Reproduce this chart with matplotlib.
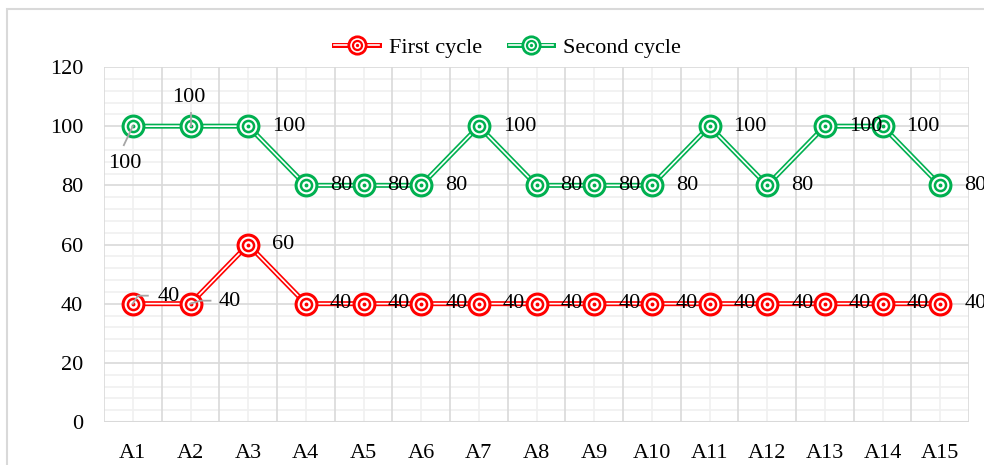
import matplotlib
matplotlib.use("Agg")
import matplotlib.pyplot as plt
from matplotlib.lines import Line2D
from matplotlib.legend_handler import HandlerTuple
from matplotlib.patches import Rectangle
from matplotlib.ticker import MultipleLocator

categories = ["A1", "A2", "A3", "A4", "A5", "A6", "A7", "A8", "A9", "A10",
              "A11", "A12", "A13", "A14", "A15"]
first_cycle = [40, 40, 60, 40, 40, 40, 40, 40, 40, 40, 40, 40, 40, 40, 40]
second_cycle = [100, 100, 100, 80, 80, 80, 100, 80, 80, 80, 100, 80, 100, 100, 80]
series_names = ["First cycle", "Second cycle"]

RED = "#FF0000"
GREEN = "#00B050"
FONT = "Liberation Serif"
FS = 16

plt.rcParams['font.family'] = [FONT, 'DejaVu Serif']

fig = plt.figure(figsize=(9.84, 4.65), dpi=100)
fig.patches.append(Rectangle((7 / 984, -0.1), 1.2, 1 - 9.5 / 465 + 0.1,
                             transform=fig.transFigure, fill=False,
                             edgecolor="#d9d9d9", lw=1.5, zorder=0))

ax = fig.add_axes([104 / 984, 1 - 422 / 465, (969 - 104) / 984, (422 - 67) / 465])
x = list(range(len(categories)))

ax.set_xlim(-0.5, len(categories) - 0.5)
ax.set_ylim(0, 120)
ax.yaxis.set_major_locator(MultipleLocator(20))
ax.yaxis.set_minor_locator(MultipleLocator(4))
ax.set_xticks(x)
ax.set_xticklabels(categories)

for v in range(0, 121, 4):
    if v % 20 == 0:
        ax.axhline(v, color="#d9d9d9", lw=1.2, zorder=0.5)
    else:
        ax.axhline(v, color="#f0f0f0", lw=1.2, zorder=0.4)
for i in range(len(categories) + 1):
    ax.axvline(i - 0.5, color="#d9d9d9", lw=1.2, zorder=0.5)
for i in x:
    ax.axvline(i, color="#f0f0f0", lw=1.2, zorder=0.4)

for s in ax.spines.values():
    s.set_visible(False)
ax.axhline(0, color="#d9d9d9", lw=1.5, zorder=0.6)

ax.tick_params(axis="both", which="both", length=0, labelsize=FS, colors="black")
ax.tick_params(axis="y", pad=15)
ax.tick_params(axis="x", pad=16)


def draw_series(vals, color, z):
    ax.plot(x, vals, color=color, lw=3.6, zorder=z, solid_capstyle="butt")
    ax.plot(x, vals, color="white", lw=1.2, zorder=z + 0.01)
    ax.plot(x, vals, ls="none", marker="o", ms=15, mfc="white", mec=color, mew=2.2, zorder=z + 0.02)
    ax.plot(x, vals, ls="none", marker="o", ms=8, mfc="white", mec=color, mew=1.8, zorder=z + 0.03)
    ax.plot(x, vals, ls="none", marker="o", ms=2.8, mfc=color, mec=color, mew=0, zorder=z + 0.04)


draw_series(first_cycle, RED, 3)
draw_series(second_cycle, GREEN, 4)

PT = 72 / 100.0  # px -> pt
YU = 120 / 355.0  # data units per px (y)
XU = 1 / 57.6     # data units per px (x)
LEAD = "#a6a6a6"


def label(i, v, dx=24, dy=0, ha="left"):
    ax.annotate(str(v), (i, v), xytext=(dx * PT, dy * PT), textcoords="offset points",
                ha=ha, va="center", fontsize=FS, color="black", zorder=10,
                annotation_clip=False)


for i, v in enumerate(first_cycle):
    if i == 0:
        label(i, v, dx=25, dy=7)
        ax.plot([i, i + 5 * XU, i + 15 * XU], [v, v + 8 * YU, v + 8 * YU],
                color=LEAD, lw=1.3, zorder=9)
    elif i == 1:
        label(i, v, dx=28, dy=2)
        ax.plot([i, i + 10 * XU, i + 20 * XU], [v, v + 3 * YU, v + 3 * YU],
                color=LEAD, lw=1.3, zorder=9)
    else:
        label(i, v)

for i, v in enumerate(second_cycle):
    if i == 0:
        label(i, v, dx=-8, dy=-37, ha="center")
        ax.plot([i, i - 9 * XU], [v, v - 19 * YU], color=LEAD, lw=1.3, zorder=9)
    elif i == 1:
        label(i, v, dx=-2, dy=29, ha="center")
        ax.plot([i, i], [v, v + 13 * YU], color=LEAD, lw=1.3, zorder=9)
    else:
        label(i, v)


def handle(color):
    return (Line2D([], [], color=color, lw=3.6),
            Line2D([], [], color="white", lw=1.2),
            Line2D([], [], ls="none", marker="o", ms=12.5, mfc="white", mec=color, mew=2.0),
            Line2D([], [], ls="none", marker="o", ms=6.5, mfc="white", mec=color, mew=1.6),
            Line2D([], [], ls="none", marker="o", ms=2.4, mfc=color, mec=color, mew=0))


fig.legend([handle(RED), handle(GREEN)], series_names,
           handler_map={tuple: HandlerTuple(ndivide=1)},
           loc="center", bbox_to_anchor=(0.516, 1 - 48 / 465), ncol=2, frameon=False,
           fontsize=FS, handlelength=2.0, handletextpad=0.45, columnspacing=1.2)

fig.savefig("out.png", dpi=100)
